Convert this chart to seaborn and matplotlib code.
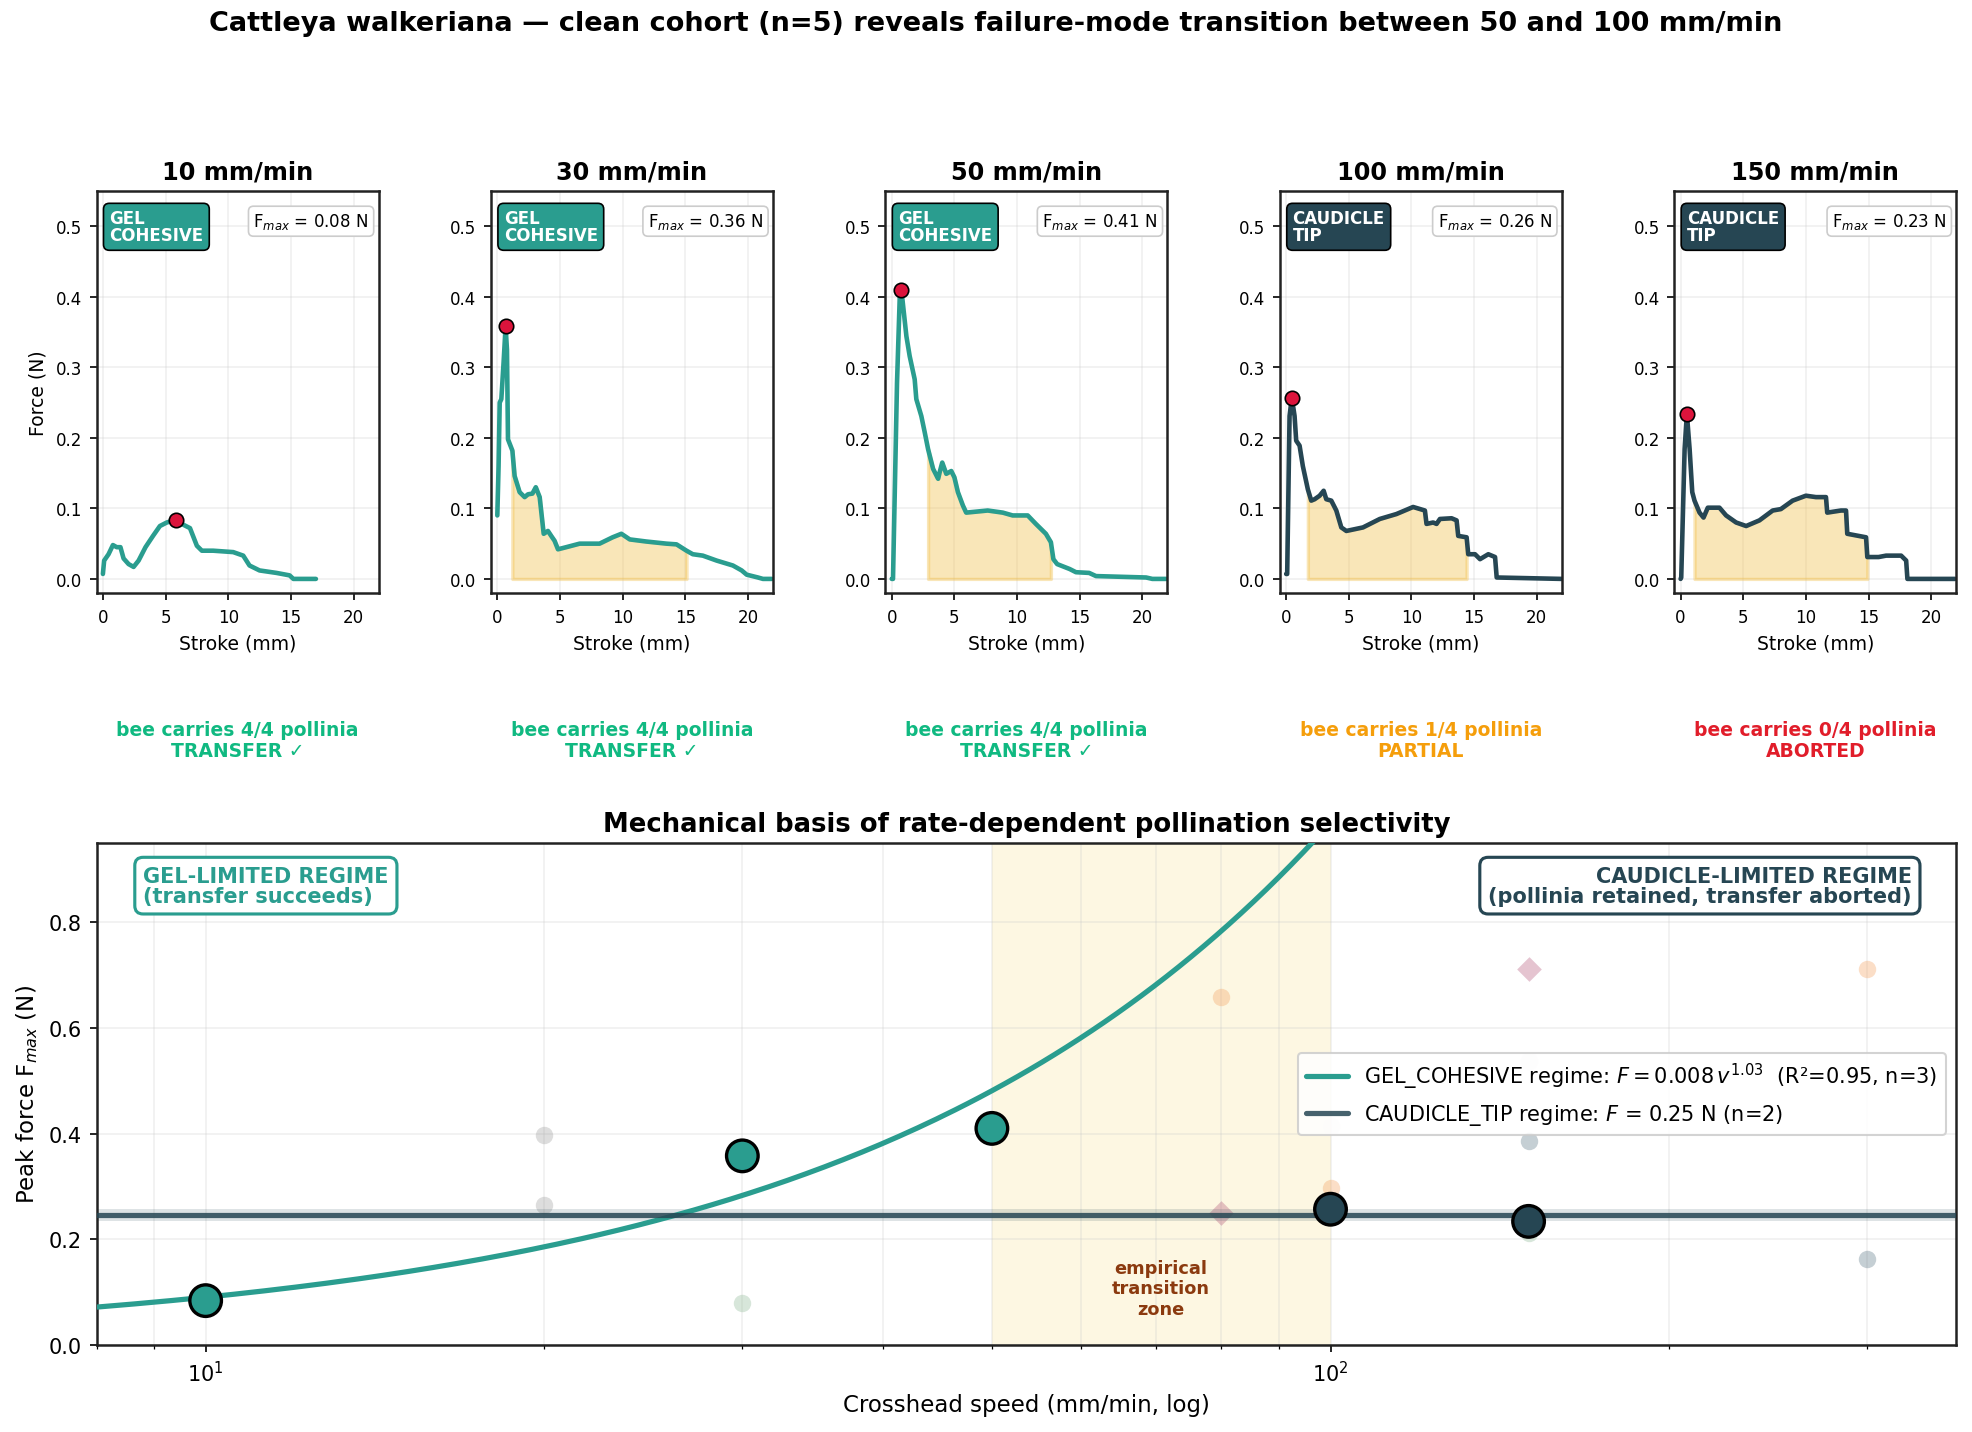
import numpy as np
import matplotlib
matplotlib.use("Agg")
import matplotlib.pyplot as plt
import seaborn as sns

# ---- data -------------------------------------------------------------
speeds = [10, 30, 50, 100, 150]
regimes = ["GEL_COHESIVE", "GEL_COHESIVE", "GEL_COHESIVE", "CAUDICLE_TIP", "CAUDICLE_TIP"]
pollinia_carried = [4, 4, 4, 1, 0]
outcomes = ["TRANSFER \u2713", "TRANSFER \u2713", "TRANSFER \u2713", "PARTIAL", "ABORTED"]

stroke_10 = [0, 0.1, 0.45, 0.8, 1.1, 1.4, 1.65, 2.05, 2.45, 2.85, 3.4, 4.0, 4.55, 5.1, 5.85,
             6.4, 6.95, 7.5, 7.9, 8.8, 10.4, 11.2, 11.7, 12.5, 13.85, 14.9, 15.2, 17.0]
force_10 = [0.007, 0.026, 0.035, 0.048, 0.045, 0.045, 0.029, 0.021, 0.017, 0.026, 0.045, 0.061,
            0.075, 0.080, 0.084, 0.077, 0.072, 0.047, 0.040, 0.040, 0.038, 0.033, 0.019, 0.012,
            0.0085, 0.005, 0.0, 0.0]

stroke_30 = [0, 0.1, 0.19, 0.32, 0.5, 0.66, 0.77, 0.85, 1.2, 1.38, 1.78, 2.18, 2.45, 2.8, 3.07,
             3.38, 3.7, 4.04, 4.3, 4.57, 4.84, 5.5, 6.57, 8.16, 9.2, 9.9, 10.57, 11.9, 13.5, 14.3,
             15.1, 15.6, 16.4, 17.5, 18.8, 19.5, 19.9, 20.8, 21.2, 21.9]
force_30 = [0.090, 0.160, 0.250, 0.255, 0.307, 0.358, 0.325, 0.198, 0.182, 0.146, 0.123, 0.116,
            0.120, 0.121, 0.130, 0.116, 0.064, 0.068, 0.061, 0.054, 0.042, 0.045, 0.050, 0.050,
            0.059, 0.064, 0.056, 0.053, 0.050, 0.049, 0.040, 0.035, 0.033, 0.026, 0.019, 0.012,
            0.006, 0.002, 0.0, 0.0]

stroke_50 = [0, 0.1, 0.42, 0.64, 0.77, 1.17, 1.43, 1.83, 1.96, 2.36, 2.63, 2.9, 3.3, 3.7, 3.82,
             4.03, 4.35, 4.75, 5.0, 5.28, 5.68, 5.94, 7.66, 8.86, 9.65, 10.85, 11.5, 12.3, 12.7,
             12.9, 13.2, 14.2, 14.7, 15.75, 16.3, 20.3, 20.8, 21.9]
force_50 = [0.0, 0.0, 0.278, 0.401, 0.410, 0.344, 0.316, 0.283, 0.255, 0.231, 0.208, 0.184, 0.156,
            0.142, 0.151, 0.165, 0.149, 0.153, 0.144, 0.123, 0.104, 0.094, 0.097, 0.094, 0.090,
            0.090, 0.078, 0.064, 0.052, 0.028, 0.021, 0.014, 0.0095, 0.0085, 0.004, 0.002, 0.0, 0.0]

stroke_100 = [0, 0.08, 0.27, 0.45, 0.67, 0.8, 1.07, 1.33, 1.73, 2.0, 2.27, 2.67, 2.99, 3.2, 3.6,
              4.0, 4.4, 4.8, 6.13, 7.47, 8.8, 10.13, 11.07, 11.2, 11.73, 12.0, 12.27, 13.2, 13.6,
              13.73, 14.4, 14.53, 15.07, 15.47, 16.13, 16.67, 16.8, 22.0]
force_100 = [0.007, 0.007, 0.231, 0.257, 0.231, 0.196, 0.189, 0.160, 0.127, 0.111, 0.113, 0.118,
             0.125, 0.113, 0.111, 0.097, 0.073, 0.068, 0.073, 0.085, 0.092, 0.102, 0.097, 0.078,
             0.080, 0.078, 0.085, 0.086, 0.083, 0.061, 0.059, 0.035, 0.035, 0.028, 0.035, 0.031,
             0.002, 0.0]

stroke_150 = [0, 0.05, 0.32, 0.5, 0.72, 0.93, 1.11, 1.51, 1.83, 2.17, 2.7, 3.1, 3.63, 4.43, 5.23,
              6.29, 7.35, 8.0, 8.94, 10.0, 10.8, 11.6, 11.7, 12.8, 13.2, 13.3, 14.8, 14.9, 15.8,
              16.4, 17.6, 18.0, 18.1, 21.9]
force_150 = [0.0, 0.002, 0.184, 0.234, 0.184, 0.123, 0.111, 0.094, 0.087, 0.101, 0.101, 0.101,
             0.090, 0.080, 0.075, 0.083, 0.097, 0.099, 0.111, 0.118, 0.116, 0.116, 0.094, 0.097,
             0.097, 0.064, 0.059, 0.031, 0.031, 0.033, 0.033, 0.026, 0.0, 0.0]

strokes = [stroke_10, stroke_30, stroke_50, stroke_100, stroke_150]
forces = [force_10, force_30, force_50, force_100, force_150]
# stroke window of the shaded work region (None = not shaded)
work_windows = [None, (1.2, 15.2), (2.7, 12.8), (1.7, 14.5), (1.0, 14.9)]

# other trials shown faintly in the summary panel
ghost_speed = [20, 20, 30, 80, 80, 100, 100, 150, 150, 150, 150, 300, 300]
ghost_force = [0.397, 0.265, 0.079, 0.659, 0.250, 0.297, 0.414, 0.712, 0.387, 0.212, 0.537, 0.712, 0.163]
ghost_kind = ["grey", "grey", "sage", "orange", "pink", "orange", "pale", "pink", "slate", "sage",
              "pale", "orange", "slate"]

# ---- styling ----------------------------------------------------------
TEAL = "#2a9d8f"
DARK = "#264653"
regime_color = {"GEL_COHESIVE": TEAL, "CAUDICLE_TIP": DARK}
regime_badge = {"GEL_COHESIVE": "GEL\nCOHESIVE", "CAUDICLE_TIP": "CAUDICLE\nTIP"}
outcome_color = {4: "#10b981", 1: "#f59e0b", 0: "#e11d2a"}
ghost_palette = {"grey": "#9e9e9e", "sage": "#8fb996", "orange": "#f4a261",
                 "pink": "#b5587a", "slate": "#5b7684", "pale": "#e8e0ea"}
ghost_marker = {"grey": "o", "sage": "o", "orange": "o", "pink": "D", "slate": "o", "pale": "o"}

sns.set_style("white")
plt.rcParams["font.family"] = ["DejaVu Sans"]
plt.rcParams["axes.edgecolor"] = "#222222"
plt.rcParams["axes.linewidth"] = 1.2
plt.rcParams["xtick.bottom"] = True
plt.rcParams["ytick.left"] = True
for key in ["text.color", "axes.labelcolor", "xtick.color", "ytick.color"]:
    plt.rcParams[key] = "black"

fig = plt.figure(figsize=(13.147, 9.553), dpi=150)
fig.text(0.505, 0.983, "Cattleya walkeriana \u2014 clean cohort (n=5) reveals failure-mode transition "
         "between 50 and 100 mm/min", ha="center", va="center", fontsize=13, fontweight="bold")

gs_top = fig.add_gridspec(1, 5, left=0.049, right=0.992, top=0.866, bottom=0.5855, wspace=0.399)

for i, v in enumerate(speeds):
    ax = fig.add_subplot(gs_top[0, i])
    s = np.array(strokes[i])
    f = np.array(forces[i])
    col = regime_color[regimes[i]]
    sns.lineplot(x=s, y=f, ax=ax, color=col, lw=2.2, sort=False, estimator=None)
    if work_windows[i] is not None:
        lo, hi = work_windows[i]
        m = (s >= lo) & (s <= hi)
        ax.fill_between(s[m], 0, f[m], color="#f2c14e", alpha=0.4, lw=1.6)
    k = int(np.argmax(f))
    sns.scatterplot(x=[s[k]], y=[f[k]], ax=ax, color="crimson", edgecolor="black",
                    linewidth=0.8, s=48, zorder=5)
    ax.set_xlim(-0.5, 22)
    ax.set_ylim(-0.02, 0.55)
    ax.set_xticks([0, 5, 10, 15, 20])
    ax.set_yticks([0, 0.1, 0.2, 0.3, 0.4, 0.5])
    ax.tick_params(labelsize=8, length=3.5)
    ax.grid(True, alpha=0.3)
    ax.set_title(f"{v} mm/min", fontsize=11.5, fontweight="bold")
    ax.set_xlabel("Stroke (mm)", fontsize=9)
    ax.set_ylabel("Force (N)" if i == 0 else "", fontsize=9)
    ax.text(0.045, 0.955, regime_badge[regimes[i]], transform=ax.transAxes, ha="left", va="top",
            fontsize=8, fontweight="bold", color="white", linespacing=0.95,
            bbox=dict(boxstyle="round,pad=0.35", fc=col, ec="black", lw=0.8))
    ax.text(0.965, 0.925, f"F$_{{max}}$ = {f[k]:.2f} N", transform=ax.transAxes, ha="right",
            va="center", fontsize=8,
            bbox=dict(boxstyle="round,pad=0.3", fc="white", ec="#cccccc", lw=0.8))
    cx = (ax.get_position().x0 + ax.get_position().x1) / 2
    oc = outcome_color[pollinia_carried[i]]
    fig.text(cx, 0.483, f"bee carries {pollinia_carried[i]}/4 pollinia\n{outcomes[i]}",
             ha="center", va="center", fontsize=9, fontweight="bold", color=oc, linespacing=1.1)

# ---- summary panel ----------------------------------------------------
gs_bot = fig.add_gridspec(1, 1, left=0.049, right=0.992, top=0.411, bottom=0.0607)
ax = fig.add_subplot(gs_bot[0, 0])
ax.set_xscale("log")
ax.set_xlim(8, 360)
ax.set_ylim(0, 0.95)
ax.axvspan(50, 100, color="#fbe7a1", alpha=0.3, lw=0, zorder=0)

peaks = np.array([max(f) for f in forces])
spd = np.array(speeds, dtype=float)
is_gel = np.array([r == "GEL_COHESIVE" for r in regimes])

for kind in ghost_palette:
    idx = [j for j, g in enumerate(ghost_kind) if g == kind]
    sns.scatterplot(x=[ghost_speed[j] for j in idx], y=[ghost_force[j] for j in idx], ax=ax,
                    color=ghost_palette[kind], marker=ghost_marker[kind], s=70, alpha=0.35,
                    linewidth=0, zorder=2)

# power-law fit for the gel regime
b, ln_a = np.polyfit(np.log(spd[is_gel]), np.log(peaks[is_gel]), 1)
v_line = np.geomspace(8, 360, 300)
sns.lineplot(x=v_line, y=np.exp(ln_a) * v_line ** b, ax=ax, color=TEAL, lw=2.5, zorder=3,
             label=r"GEL_COHESIVE regime: $F = 0.008\,v^{1.03}$  (R²=0.95, n=3)")

caud = peaks[~is_gel]
ax.axhspan(caud.min(), caud.max(), color=DARK, alpha=0.15, lw=0, zorder=2)
ax.axhline(caud.mean(), color=DARK, alpha=0.85, lw=2.5, zorder=3,
           label=rf"CAUDICLE_TIP regime: $F$ = {caud.mean():.2f} N (n=2)")

sns.scatterplot(x=spd, y=peaks, ax=ax, hue=regimes, palette=regime_color, s=230,
                edgecolor="black", linewidth=1.6, zorder=6, legend=False)

ax.text(70.7, 0.107, "empirical\ntransition\nzone", ha="center", va="center", fontsize=8.5,
        fontweight="bold", color="#8b3a0f")
ax.text(0.025, 0.955, "GEL-LIMITED REGIME\n(transfer succeeds)", transform=ax.transAxes,
        ha="left", va="top", fontsize=10, fontweight="bold", color=TEAL, linespacing=1.0,
        bbox=dict(boxstyle="round,pad=0.4", fc="white", ec=TEAL, lw=1.5))
ax.text(0.976, 0.955, "CAUDICLE-LIMITED REGIME\n(pollinia retained, transfer aborted)",
        transform=ax.transAxes, ha="right", va="top", fontsize=10, fontweight="bold",
        color=DARK, linespacing=1.0, multialignment="right",
        bbox=dict(boxstyle="round,pad=0.4", fc="white", ec=DARK, lw=1.5))

ax.grid(True, which="both", alpha=0.3)
ax.tick_params(labelsize=10)
ax.set_yticks([0, 0.2, 0.4, 0.6, 0.8])
ax.set_xlabel("Crosshead speed (mm/min, log)", fontsize=11)
ax.set_ylabel("Peak force F$_{max}$ (N)", fontsize=11)
ax.set_title("Mechanical basis of rate-dependent pollination selectivity", fontsize=12.4,
             fontweight="bold")
ax.legend(loc="center right", fontsize=10, framealpha=0.85)

fig.savefig("out.png", dpi=150)
